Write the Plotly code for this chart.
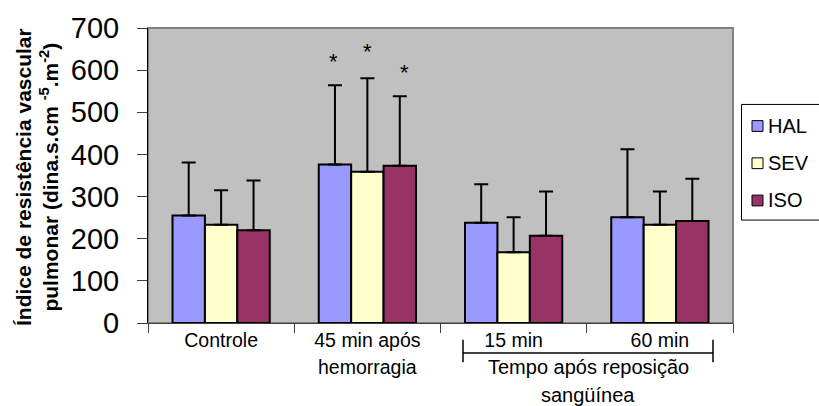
import plotly.graph_objects as go

# ---- data ----
categories = ["Controle", "45 min após hemorragia", "15 min", "60 min"]
tick_text = ["Controle", "45 min após", "15 min", "60 min"]
series_names = ["HAL", "SEV", "ISO"]
hal_mean = [255, 376, 238, 251]
sev_mean = [233, 359, 168, 233]
iso_mean = [220, 373, 207, 242]
hal_sd = [126, 188, 91, 161]
sev_sd = [82, 222, 83, 79]
iso_sd = [118, 165, 105, 100]
star_values = [614, 636, 588]  # significance markers at "45 min após hemorragia"
y_ticks = [0, 100, 200, 300, 400, 500, 600, 700]

# ---- style ----
colors = ["#9999FF", "#FFFFCC", "#993366"]
star_xshift = [-34, 0, 37]
FONT = "Liberation Sans, Arial, sans-serif"

W, H = 819, 406
ML, MR, MT, MB = 148, 86, 22, 83
PW, PH = W - ML - MR, H - MT - MB


def px(x):
    return (x - ML) / PW


def py(y):
    return (H - MB - y) / PH


means = [hal_mean, sev_mean, iso_mean]
sds = [hal_sd, sev_sd, iso_sd]

fig = go.Figure()
for name, m, s, c in zip(series_names, means, sds, colors):
    fig.add_trace(go.Bar(
        name=name, x=categories, y=m,
        marker=dict(color=c, line=dict(color="black", width=2)),
        error_y=dict(type="data", array=s, arrayminus=[0] * len(s), symmetric=False,
                     color="black", thickness=2, width=7),
        showlegend=False,
    ))

annotations = []
# significance stars
for v, xs in zip(star_values, star_xshift):
    annotations.append(dict(x=categories[1], y=v, xref="x", yref="y", text="*",
                            showarrow=False, xshift=xs, yshift=3, xanchor="center",
                            yanchor="middle",
                            font=dict(family=FONT, size=22, color="black")))
# second line of category label
annotations.append(dict(x=categories[1], y=py(368), xref="x", yref="paper",
                        text="hemorragia", showarrow=False, xanchor="center", yanchor="middle",
                        font=dict(family=FONT, size=19.5, color="black")))
# group label
annotations.append(dict(x=px(588), y=py(368), xref="paper", yref="paper",
                        text="Tempo após reposição", showarrow=False,
                        xanchor="center", yanchor="middle",
                        font=dict(family=FONT, size=20, color="black")))
annotations.append(dict(x=px(588), y=py(396), xref="paper", yref="paper",
                        text="sangüínea", showarrow=False, xanchor="center", yanchor="middle",
                        font=dict(family=FONT, size=20, color="black")))
# y axis title
annotations.append(dict(x=px(37), y=py(174), xref="paper", yref="paper",
                        text="<b>Índice de resistência vascular<br>pulmonar (dina.s.cm <sup>-5</sup>.m<sup>-2</sup>)</b>",
                        textangle=-90, showarrow=False, xanchor="center", yanchor="middle",
                        font=dict(family=FONT, size=21, color="black")))
# legend texts
leg_y = [122, 160, 198]
for name, yy in zip(series_names, leg_y):
    annotations.append(dict(x=px(766), y=py(yy), xref="paper", yref="paper", text=name,
                            showarrow=False, xanchor="left", yanchor="middle",
                            font=dict(family=FONT, size=20, color="black")))

shapes = [
    # plot border (top/right)
    dict(type="rect", xref="paper", yref="paper", x0=0, x1=1, y0=0, y1=1,
         line=dict(color="#808080", width=2), layer="below"),
    # bracket
    dict(type="line", xref="paper", yref="paper", x0=px(463), x1=px(713), y0=py(353.5), y1=py(353.5),
         line=dict(color="black", width=1.5)),
    dict(type="line", xref="paper", yref="paper", x0=px(463), x1=px(463), y0=py(340), y1=py(363),
         line=dict(color="black", width=1.5)),
    dict(type="line", xref="paper", yref="paper", x0=px(713), x1=px(713), y0=py(340), y1=py(363),
         line=dict(color="black", width=1.5)),
    # legend box
    dict(type="rect", xref="paper", yref="paper", x0=px(741.5), x1=px(830), y0=py(218), y1=py(100),
         line=dict(color="black", width=1), fillcolor="white"),
]
for c, yy in zip(colors, leg_y):
    shapes.append(dict(type="rect", xref="paper", yref="paper", x0=px(752), x1=px(763),
                       y0=py(yy + 5.5), y1=py(yy - 5.5), fillcolor=c,
                       line=dict(color="black", width=1)))

fig.update_layout(
    width=W, height=H,
    margin=dict(l=ML, r=MR, t=MT, b=MB, pad=0),
    paper_bgcolor="white", plot_bgcolor="#C0C0C0",
    barmode="group", bargap=0.335, bargroupgap=0,
    font=dict(family=FONT, color="black"),
    xaxis=dict(type="category", categoryorder="array", categoryarray=categories,
               tickvals=categories, ticktext=tick_text, tickson="boundaries",
               ticks="outside", ticklen=9, tickcolor="#404040", showline=True,
               linecolor="#404040", linewidth=1, showgrid=False, zeroline=False,
               tickfont=dict(family=FONT, size=19.5, color="black")),
    yaxis=dict(range=[0, 700], tickvals=y_ticks, ticks="outside", ticklen=10,
               tickcolor="#404040", showline=True, linecolor="black", linewidth=1,
               showgrid=False, zeroline=False, ticklabelstandoff=12,
               tickfont=dict(family=FONT, size=29, color="black")),
    annotations=annotations,
    shapes=shapes,
    showlegend=False,
)

fig.write_html("out.html")
